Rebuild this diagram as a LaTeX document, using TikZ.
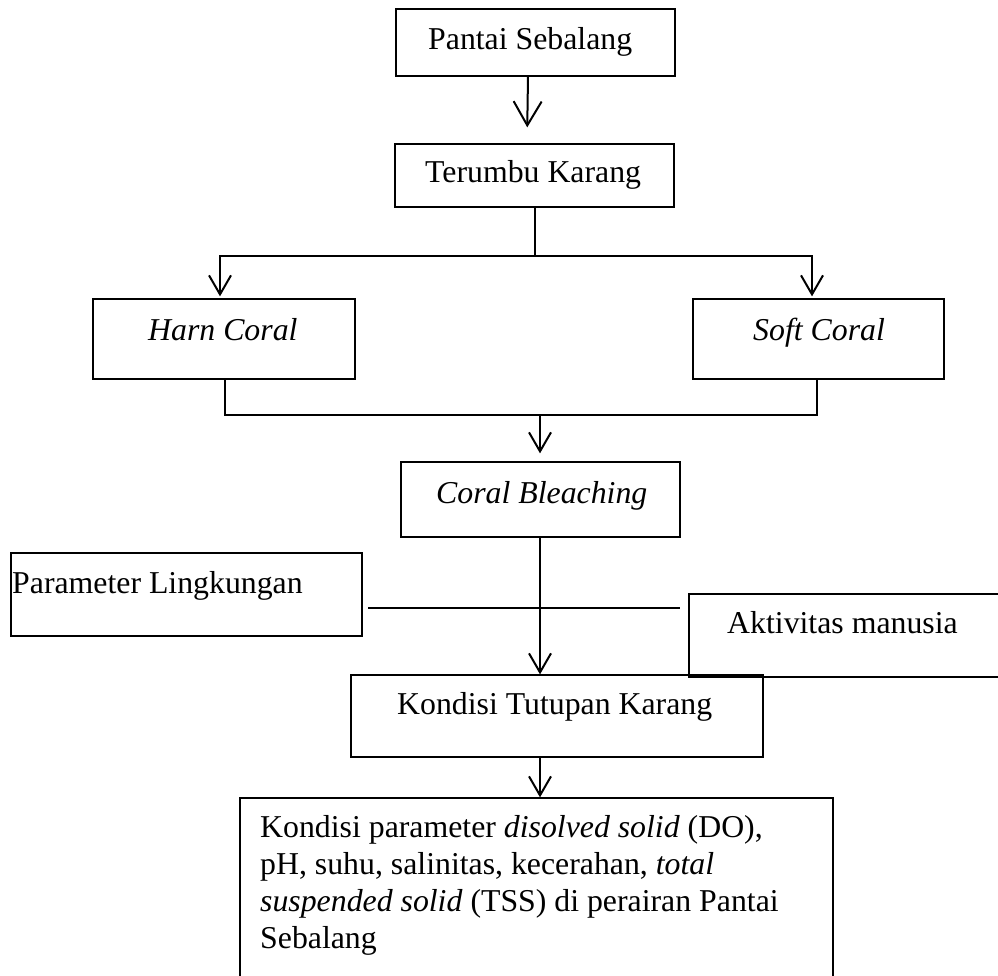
\documentclass[tikz,border=0pt]{standalone}
\usepackage{fontspec}
\setmainfont{Liberation Serif}
\usetikzlibrary{arrows.meta,calc}
\begin{document}
\begin{tikzpicture}[x=1pt,y=-1pt,
  box/.style={draw, line width=1.3pt, inner sep=0pt, rectangle},
  lbl/.style={inner sep=0pt, anchor=base west, font=\fontsize{31.8}{37}\selectfont},
  conn/.style={line width=2pt},
  arr/.style={conn, -{Straight Barb[length=19pt,width=22pt]}},
  bigarr/.style={conn, -{Straight Barb[length=24pt,width=28pt]}}]
\useasboundingbox (0,0) rectangle (998,976);

% boxes
\node[box, minimum width=279, minimum height=67] (pantai) at (535.5,42.5) {};
\node[box, minimum width=279, minimum height=63] (terumbu) at (534.5,175.5) {};
\node[box, minimum width=262, minimum height=80] (harn) at (224,339) {};
\node[box, minimum width=251, minimum height=80] (soft) at (818.5,339) {};
\node[box, minimum width=279, minimum height=75] (cb) at (540.5,499.5) {};
\node[box, minimum width=351, minimum height=83] (param) at (186.5,594.5) {};
\node[box, minimum width=316, minimum height=83] (akt) at (847,635.5) {};
\node[box, minimum width=412, minimum height=82] (kond) at (557,716) {};
\node[box, minimum width=593, minimum height=187] (res) at (536.5,891.5) {};

% labels
\node[lbl] (pantaiT) at (428,50) {Pantai Sebalang};
\node[lbl] (terumbuT) at (425,183) {Terumbu Karang};
\node[lbl] (harnT) at (148,340) {\itshape Harn Coral};
\node[lbl] (softT) at (753,340) {\itshape Soft Coral};
\node[lbl] (cbT) at (436,503) {\itshape Coral Bleaching};
\node[lbl] (paramT) at (12,593) {Parameter Lingkungan};
\node[lbl] (aktT) at (727,633) {Aktivitas manusia};
\node[lbl] (kondT) at (397,714) {Kondisi Tutupan Karang};
\node[lbl] (resT) at (260,837) {\parbox[t]{560pt}{\raggedright\fontsize{31.8}{37}\selectfont
Kondisi parameter \textit{disolved solid} (DO),\\
pH, suhu, salinitas, kecerahan, \textit{total}\\
\textit{suspended solid} (TSS) di perairan Pantai\\
Sebalang}};

% junction points
\coordinate (spl) at (534.5,256);
\coordinate (splL) at (220,256);
\coordinate (splR) at (812,256);
\coordinate (mL) at (225,415);
\coordinate (mR) at (817,415);
\coordinate (mC) at (540,415);
\coordinate (hL) at (368,608);
\coordinate (hR) at (680,608);

% connectors
\draw[bigarr, shorten >=16pt] ([xshift=-7.5pt]pantai.south) -- ([xshift=-7.5pt]terumbu.north);
\draw[conn] (terumbu.south) -- (spl);
\draw[arr, shorten >=2pt] (spl) -- (splL) -- (harn.north -| splL);
\draw[arr, shorten >=2pt] (spl) -- (splR) -- (soft.north -| splR);
\draw[conn] (harn.south -| mL) -- (mL) -- (mR) -- (soft.south -| mR);
\draw[arr, shorten >=8pt] (mC) -- (cb.north -| mC);
\draw[arr] (cb.south -| mC) -- (kond.north -| mC);
\draw[conn] (hL) -- (hR);
\draw[arr] (kond.south -| mC) -- (res.north -| mC);
\end{tikzpicture}
\end{document}
